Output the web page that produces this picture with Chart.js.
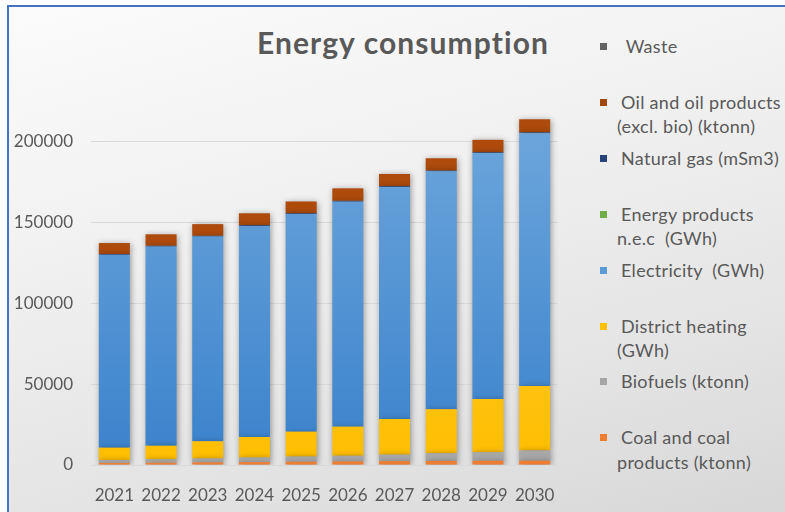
<!DOCTYPE html>
<html>
<head>
<meta charset="utf-8">
<script src="https://cdn.jsdelivr.net/npm/chart.js@4"></script>
<style>
  html, body { margin: 0; padding: 0; background: #fff; overflow: hidden; }
  body { width: 785px; height: 512px; position: relative; font-family: Lato, 'Open Sans', sans-serif; }
  #frame {
    position: absolute; left: 7px; top: 5px; width: 800px; height: 520px;
    border-left: 2px solid #4472c4; border-top: 2px solid #4472c4;
    background: linear-gradient(165deg, #fbfbfb 0%, #f1f1f1 35%, #e4e4e4 70%, #d6d6d6 100%);
  }
  #chartTitle {
    position: absolute; left: 233px; top: 24px; width: 340px; text-align: center;
    font: bold 30px Lato, sans-serif; letter-spacing: 1.1px; color: #595959;
  }
  #legend { position: absolute; left: 600px; top: 0; }
  .item { position: absolute; left: 0; white-space: pre; font-size: 18px; letter-spacing: 0.3px; line-height: 24.5px; color: #595959; }
  .item i { position: absolute; left: 0; top: 9px; width: 7px; height: 7px; }
  .item span { display: block; margin-left: 17px; text-indent: 4px; }
  canvas { position: absolute; left: 0; top: 0; }
</style>
</head>
<body>
<div id="frame"></div>
<div id="chartTitle">Energy consumption</div>
<div id="legend"></div>
<canvas id="myChart" width="785" height="512"></canvas>
<script>
// anni sull'asse x
const years = ['2021', '2022', '2023', '2024', '2025', '2026', '2027', '2028', '2029', '2030'];
// tick dell'asse y
const yTicks = [0, 50000, 100000, 150000, 200000];

// serie impilate, dal basso verso l'alto
const coal = [1300, 1400, 1600, 1800, 2000, 2200, 2400, 2500, 2600, 2700];
const biofuels = [1800, 2100, 2400, 2800, 3200, 3500, 4000, 4700, 5300, 6300];
const districtHeating = [7600, 8400, 10650, 12700, 15400, 18000, 22000, 27200, 32900, 39800];
const electricity = [119200, 123100, 126550, 130500, 134500, 139100, 143500, 147100, 152000, 156300];
const energyProducts = [0, 0, 0, 0, 0, 0, 0, 0, 0, 0];
const naturalGas = [500, 500, 500, 500, 500, 500, 500, 500, 500, 500];
const oil = [6800, 7100, 7200, 7300, 7300, 7700, 7500, 7600, 7700, 8100];
const waste = [0, 0, 0, 0, 0, 0, 0, 0, 0, 0];

// gradiente verticale per le barre
function vGrad(top, bottom) {
	return (c) => {
		const area = c.chart.chartArea;
		if (!area) return bottom;
		const g = c.chart.ctx.createLinearGradient(0, area.top, 0, area.bottom);
		g.addColorStop(0, top);
		g.addColorStop(1, bottom);
		return g;
	};
}

const series = [
	{ label: 'Coal and coal\nproducts (ktonn)', data: coal, color: '#ed7d31', fill: '#ed7d31' },
	{ label: 'Biofuels (ktonn)', data: biofuels, color: '#a5a5a5', fill: '#a8a8a8' },
	{ label: 'District heating\n(GWh)', data: districtHeating, color: '#ffc000', fill: vGrad('#ffcf45', '#ffbe00') },
	{ label: 'Electricity  (GWh)', data: electricity, color: '#5b9bd5', fill: vGrad('#70a8dc', '#3a82cc') },
	{ label: 'Energy products\nn.e.c  (GWh)', data: energyProducts, color: '#70ad47', fill: '#70ad47' },
	{ label: 'Natural gas (mSm3)', data: naturalGas, color: '#264478', fill: '#264478' },
	{ label: 'Oil and oil products\n(excl. bio) (ktonn)', data: oil, color: '#9e480e', fill: '#ad4a0c' },
	{ label: ' Waste', data: waste, color: '#636363', fill: '#636363' }
];

// ombra morbida sotto le barre
const barShadow = {
	id: 'barShadow',
	beforeDatasetsDraw(chart) {
		const c = chart.ctx;
		c.save();
		c.shadowColor = 'rgba(0,0,0,0.38)';
		c.shadowBlur = 6;
		c.shadowOffsetX = 1;
		c.shadowOffsetY = 1;
	},
	afterDatasetsDraw(chart) {
		chart.ctx.restore();
	}
};

const ctx = document.getElementById('myChart');
const chart = new Chart(ctx, {
	type: 'bar',
	data: {
		labels: years,
		datasets: series.map(s => ({
			label: s.label,
			data: s.data,
			backgroundColor: s.fill,
			borderWidth: 0,
			categoryPercentage: 1,
			barPercentage: 0.665
		}))
	},
	options: {
		responsive: false,
		animation: false,
		layout: { padding: { left: 0, right: 227, top: 101, bottom: 0 } },
		scales: {
			x: {
				stacked: true,
				grid: { display: false },
				border: { display: false },
				ticks: { color: '#595959', font: { family: 'Lato', size: 17 }, padding: 12, maxRotation: 0 },
				afterFit: (s) => { s.height = 47; }
			},
			y: {
				stacked: true,
				min: 0,
				max: 225000,
				afterBuildTicks: (s) => { s.ticks = yTicks.map(v => ({ value: v })); },
				grid: { color: '#d9d9d9', lineWidth: 1, drawTicks: false },
				border: { display: false },
				ticks: {
					color: '#595959',
					font: { family: 'Lato', size: 17 },
					padding: 18,
					callback: (v) => String(v)
				},
				afterFit: (s) => { s.width = 91; }
			}
		},
		plugins: {
			legend: { display: false },
			tooltip: { enabled: false }
		}
	},
	plugins: [barShadow]
});

// legenda a destra, in ordine inverso rispetto all'impilamento
const legend = document.getElementById('legend');
series.slice().reverse().forEach((s, i) => {
	const item = document.createElement('div');
	item.className = 'item';
	item.style.top = (34 + i * 55.9) + 'px';
	const box = document.createElement('i');
	box.style.background = s.color;
	const txt = document.createElement('span');
	txt.textContent = s.label;
	item.appendChild(box);
	item.appendChild(txt);
	legend.appendChild(item);
});
</script>
</body>
</html>
